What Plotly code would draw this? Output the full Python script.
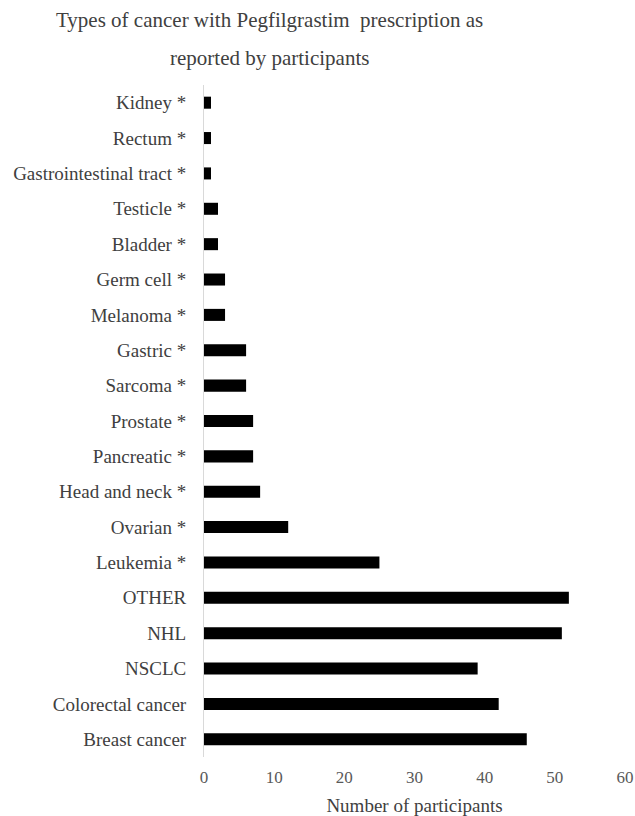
import plotly.graph_objects as go

categories = ["Breast cancer", "Colorectal cancer", "NSCLC", "NHL", "OTHER",
              "Leukemia *", "Ovarian *", "Head and neck *", "Pancreatic *",
              "Prostate *", "Sarcoma *", "Gastric *", "Melanoma *", "Germ cell *",
              "Bladder *", "Testicle *", "Gastrointestinal tract *", "Rectum *", "Kidney *"]
values = [46, 42, 39, 51, 52, 25, 12, 8, 7, 7, 6, 6, 3, 3, 2, 2, 1, 1, 1]
x_ticks = [0, 10, 20, 30, 40, 50, 60]
title_lines = ["Types of cancer with Pegfilgrastim  prescription as", "reported by participants"]

font_family = "Liberation Serif, Times New Roman, serif"

fig = go.Figure(go.Bar(
    y=categories, x=values, orientation="h",
    marker=dict(color="black", line=dict(width=0)),
))

plot_l, plot_r, plot_t, plot_b = 204, 625, 85, 757
plot_h = plot_b - plot_t
for line, ycen in zip(title_lines, [20, 58]):
    fig.add_annotation(
        text=line, xref="paper", yref="paper",
        x=(269 - plot_l) / (plot_r - plot_l), y=1 + (plot_t - ycen) / plot_h,
        xanchor="center", yanchor="middle", showarrow=False,
        font=dict(size=21, family=font_family, color="#404040"),
    )

fig.update_layout(
    width=635, height=816,
    margin=dict(l=plot_l, r=635 - plot_r, t=plot_t, b=816 - plot_b),
    paper_bgcolor="white", plot_bgcolor="white",
    bargap=0.66,
    showlegend=False,
    font=dict(family=font_family, color="#404040"),
    xaxis=dict(
        range=[0, 60], tickvals=x_ticks, ticktext=[str(t) for t in x_ticks],
        showgrid=False, zeroline=False, showline=False, automargin=False,
        tickfont=dict(size=17, color="#595959"),
        ticks="", ticklabelstandoff=8,
        title=dict(text="Number of participants", font=dict(size=19, color="#404040"), standoff=12),
    ),
    yaxis=dict(
        categoryorder="array", categoryarray=categories,
        showgrid=False, zeroline=False, automargin=False,
        showline=True, linecolor="#d9d9d9", linewidth=1,
        tickfont=dict(size=19, color="#404040"),
        ticks="", ticklabelstandoff=13,
    ),
)

fig.write_html("out.html")
